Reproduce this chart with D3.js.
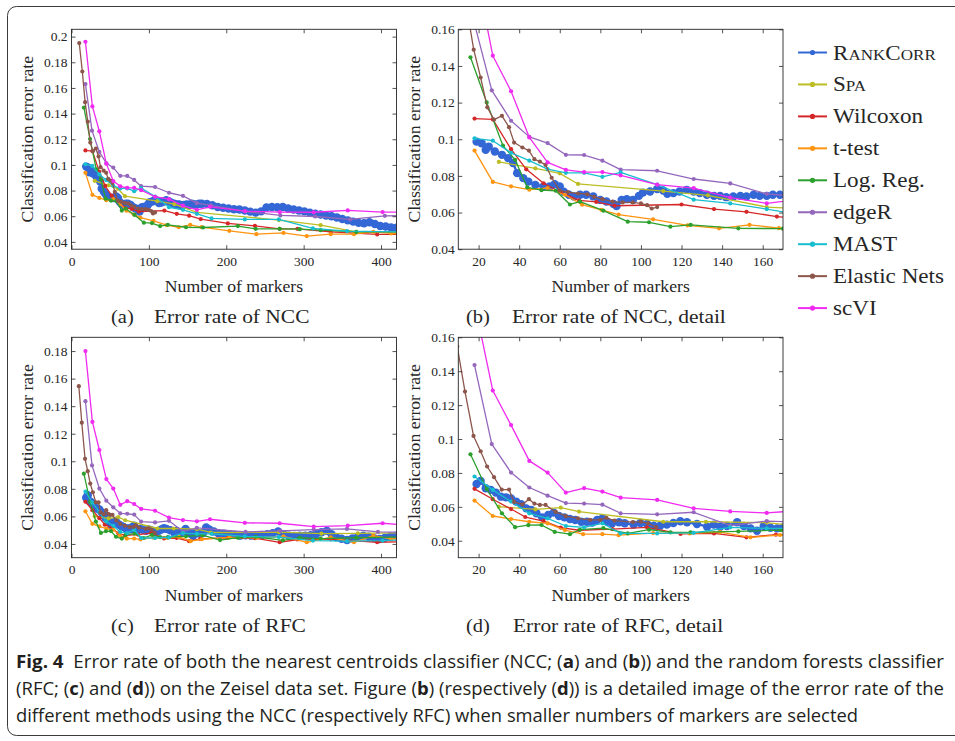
<!DOCTYPE html>
<html>
<head>
<meta charset="utf-8">
<script src="https://cdn.jsdelivr.net/npm/d3@7"></script>
<style>
  body { margin: 0; background: #fff; }
  svg { display: block; }
</style>
</head>
<body>
<svg id="fig" width="955" height="741"></svg>
<script>
// methods, in legend order
var methods = ["RankCorr", "Spa", "Wilcoxon", "t-test", "Log. Reg.", "edgeR", "MAST", "Elastic Nets", "scVI"];
var smallCaps = ["RankCorr", "Spa"];
var colors = ["#3367d6", "#bcbd22", "#d62728", "#ff9410", "#2ca02c", "#9467bd", "#17becf", "#8c564b", "#f02af0"];

// ---- NCC error rate: [number of markers, error rate] ----
var nccRankCorr = [[19,0.0987],[21.5,0.0978],[23.5,0.0942],[25,0.096],[28,0.0933],[31.5,0.0915],[34.5,0.0897],[37,0.087],[39,0.0815],
  [42,0.0788],[44.5,0.0769],[48,0.0751],[52,0.0742],[55,0.0742],[57.5,0.0755],[60,0.0742],[62,0.0714],[64.5,0.0697],[67,0.0688],
  [70,0.0697],[73,0.0697],[76.5,0.0688],[80,0.0669],[83,0.066],[86.5,0.0647],[88,0.0636],[90.5,0.0669],[93,0.0673],[96,0.0669],
  [99,0.0691],[101,0.0709],[104.5,0.0715],[108,0.0728],[111,0.072],[113,0.0702],[116,0.0706],[119,0.0715],[122.5,0.0724],
  [126,0.0715],[129,0.0706],[132.5,0.0697],[136,0.0691],[139,0.0691],[142,0.0684],[145.5,0.0688],[149,0.0691],[152,0.0688],
  [155.5,0.0697],[158.5,0.0691],[162,0.0691],[165,0.0697],[168.5,0.0697],
  [175,0.0695],[182,0.0685],[189,0.0672],[196,0.0666],[203,0.066],[210,0.0654],[217,0.0652],[224,0.0645],[231,0.0636],[238,0.0628],
  [245,0.0638],[252,0.0668],[259,0.0672],[266,0.067],[273,0.0672],[280,0.066],[287,0.0652],[294,0.0645],[301,0.0638],[308,0.0628],
  [315,0.062],[322,0.0614],[329,0.0606],[336,0.06],[343,0.059],[350,0.0578],[357,0.0568],[364,0.0558],[371,0.0548],[378,0.0545],
  [385,0.0553],[392,0.054],[399,0.0524],[406,0.052],[413,0.0512],[420,0.051]];
var nccSpa = [[30,0.0876],[48,0.0841],[60,0.0814],[69,0.0756],[111,0.0717],[133,0.0694],[162,0.063],[268,0.057],[322,0.053],[368,0.0478],[430,0.0472]];
var nccWilcoxon = [[18,0.1113],[27,0.1108],[36,0.0946],[43.5,0.0836],[52,0.076],[60.5,0.0711],[69.5,0.0666],[78,0.0658],[87,0.0637],
  [120,0.0644],[136,0.0619],[152,0.0604],[167,0.0578],[202,0.0544],[237,0.0525],[269,0.0502],[292,0.0502],[335,0.0478],[395,0.0458],[430,0.0458]];
var nccTtest = [[18,0.0938],[27,0.0767],[36,0.0743],[45,0.0725],[54,0.0734],[62.5,0.0697],[71,0.0643],[80.5,0.0615],[89,0.0589],
  [106,0.0563],[123,0.053],[138.5,0.0514],[153.5,0.0533],[168,0.0515],[204,0.0486],[239,0.046],[274,0.047],[304,0.0445],[335,0.046],
  [365,0.046],[390,0.0478],[413,0.0466],[430,0.046]];
var nccLogReg = [[16,0.1447],[24,0.1201],[32,0.0965],[38,0.0888],[44,0.0737],[51,0.0722],[58,0.0719],[65,0.0644],[70,0.066],[81.5,0.061],
  [93.5,0.055],[104,0.0547],[114.5,0.0523],[124.5,0.0533],[148,0.0514],[170,0.0512],[215,0.0523],[238,0.0502],[269,0.0502],[295,0.0499],
  [322,0.0491],[368,0.0478],[430,0.0478]];
var nccEdgeR = [[18,0.163],[26.5,0.1267],[36,0.1101],[45,0.1013],[54,0.0979],[63,0.0915],[72,0.0914],[81,0.0883],[90,0.0834],[108,0.0828],
  [126,0.0783],[144,0.0759],[162,0.0702],[180,0.0685],[225,0.0637],[270,0.0606],[315,0.0598],[360,0.0575],[405,0.0603],[450,0.0605]];
var nccMast = [[18,0.1005],[27,0.0992],[36,0.0926],[45,0.0883],[54,0.0837],[63,0.0817],[72,0.0817],[81,0.0795],[90,0.0819],[108,0.0753],
  [126,0.067],[144,0.065],[162,0.0619],[181,0.0583],[224,0.0575],[268,0.0575],[312,0.0505],[356,0.0484],[430,0.0478]];
var nccElasticNets = [[10,0.195],[14,0.1728],[17.6,0.1489],[21,0.1337],[24.3,0.1174],[27.6,0.1107],[31.5,0.1128],[35,0.1066],[37.5,0.0982],
  [41.6,0.0955],[44.8,0.0938],[47.5,0.0891],[50.2,0.0878],[53,0.086],[56,0.079],[60,0.072],[64,0.0712],[69,0.0704],[73.5,0.07],[77,0.0685],
  [81,0.0673],[86,0.066],[91,0.0655],[96,0.0655],[100,0.065],[103,0.064],[105.3,0.0622],[108,0.063]];
var nccScvi = [[18,0.196],[27,0.1456],[36,0.1262],[45,0.101],[54,0.0874],[63,0.0833],[72,0.0821],[81,0.0821],[90,0.0803],[108,0.0752],
  [126,0.0733],[144,0.0682],[162,0.065],[179,0.0673],[224,0.064],[269,0.0632],[313,0.0631],[357,0.0645],[402,0.0632],[450,0.063]];

// ---- RFC error rate ----
var rfcRankCorr = [[19,0.0735],[21,0.0753],[23.5,0.071],[26,0.07],[28.5,0.0684],[31,0.066],[33.5,0.0656],[36,0.065],[38.5,0.0631],
  [41,0.0615],[43.5,0.0591],[46,0.0581],[48.5,0.0562],[51.3,0.0538],[54.3,0.0552],[57,0.0566],[59.6,0.0546],[62.3,0.0538],[65,0.0528],
  [67.6,0.0522],[70.6,0.0512],[73.4,0.0512],[76,0.0507],[78.4,0.0522],[81,0.0532],[83.3,0.0512],[85.8,0.0503],[89.2,0.0509],[92,0.0503],
  [96.4,0.0495],[99.7,0.0505],[103,0.0499],[106.3,0.0489],[109.5,0.0489],[112.8,0.0495],[116,0.0505],[119.4,0.0515],[122.7,0.0509],
  [127.6,0.0499],[132.6,0.0483],[135.9,0.0495],[139,0.0483],[142.4,0.0487],[147.4,0.0509],[150.7,0.0487],[154,0.0473],[157.2,0.0459],
  [160.5,0.0487],[163.8,0.0477],[167.1,0.0473],[170,0.0479],
  [174,0.052],[178,0.0505],[184,0.049],[190,0.0478],[197,0.0475],[204,0.047],[211,0.0466],[218,0.046],[225,0.0462],[232,0.046],
  [239,0.0462],[246,0.0465],[253,0.047],[260,0.0478],[267,0.049],[274,0.047],[281,0.046],[288,0.0458],[295,0.046],[302,0.046],
  [309,0.0463],[316,0.047],[323,0.0485],[330,0.0495],[336,0.047],[342,0.0448],[349,0.0438],[356,0.0428],[363,0.044],[370,0.045],
  [377,0.046],[384,0.0452],[391,0.0442],[398,0.0436],[405,0.0445],[412,0.0455],[420,0.046]];
var rfcSpa = [[30,0.0601],[48,0.0585],[60.5,0.0595],[69.5,0.0572],[111,0.0512],[132,0.0512],[162,0.0507],[180,0.0483],[268,0.0485],
  [323,0.0475],[370,0.0477],[430,0.048]];
var rfcWilcoxon = [[18,0.0706],[27,0.0645],[36,0.0587],[43,0.054],[52,0.0516],[60.5,0.0477],[69.5,0.0462],[86,0.0468],[103,0.0479],
  [119.5,0.044],[136,0.0443],[152,0.042],[166.5,0.0436],[202,0.0445],[237,0.0442],[269,0.0412],[292,0.0432],[335,0.0435],[395,0.0412],[430,0.0415]];
var rfcTtest = [[18,0.0637],[27,0.0546],[36,0.0528],[45,0.0512],[54,0.0503],[62.5,0.0463],[71.5,0.0439],[81,0.0439],[89,0.0433],
  [106,0.0445],[124,0.0443],[139,0.0451],[154,0.042],[168.5,0.0434],[204,0.0448],[239,0.0444],[274,0.0455],[304,0.0412],[335,0.0448],
  [365,0.0412],[390,0.046],[413,0.0436],[430,0.044]];
var rfcLogReg = [[16,0.091],[24,0.0705],[31.5,0.0562],[38,0.048],[44.5,0.0492],[51,0.0493],[57.5,0.0452],[65,0.0439],[70,0.0465],
  [81.5,0.0475],[93.5,0.0443],[104,0.0465],[114.5,0.0449],[124.5,0.0449],[148,0.0455],[169,0.0463],[192,0.0428],[215,0.0445],[238,0.0452],
  [273,0.0426],[295,0.0445],[322,0.0438],[368,0.0445],[430,0.045]];
var rfcEdgeR = [[18,0.1436],[26.5,0.097],[36,0.0802],[45,0.0714],[54,0.0666],[63,0.0622],[72,0.0619],[81,0.0613],[90,0.0562],[108,0.0556],
  [126,0.0568],[144,0.049],[162,0.0516],[225,0.0487],[270,0.0495],[313,0.0504],[356,0.0509],[396,0.0487],[450,0.0483]];
var rfcMast = [[18,0.0779],[27,0.07],[36,0.0631],[45,0.0562],[54,0.0532],[63,0.0487],[72,0.0479],[81,0.0503],[90,0.0443],[108,0.0443],
  [126,0.0447],[144,0.0479],[162,0.0473],[181,0.0473],[224,0.0455],[268,0.045],[312,0.0424],[356,0.042],[402,0.0424],[430,0.043]];
var rfcElasticNets = [[9.5,0.1545],[13.3,0.128],[17.5,0.1018],[21,0.0928],[24.2,0.0838],[27.6,0.0775],[31.4,0.0702],[35,0.0702],[37.5,0.0629],
  [41.6,0.0614],[44.8,0.0645],[47.5,0.0619],[50.2,0.0611],[53,0.0611],[58,0.057],[63,0.0545],[69,0.0532],[75,0.0523],[80,0.0523],[83,0.0535],
  [87,0.0519],[96,0.051],[100,0.0513],[103.5,0.0503],[107.5,0.048]];
var rfcScvi = [[18,0.18],[27,0.1286],[36,0.1082],[45,0.0871],[54,0.0802],[63,0.0684],[72,0.071],[81,0.069],[90,0.0654],[108,0.0641],
  [126,0.0591],[144,0.0573],[162,0.0564],[179,0.0579],[224,0.0553],[269,0.055],[313,0.0526],[357,0.0533],[402,0.055],[450,0.053]];

var ncc = [nccRankCorr, nccSpa, nccWilcoxon, nccTtest, nccLogReg, nccEdgeR, nccMast, nccElasticNets, nccScvi];
var rfc = [rfcRankCorr, rfcSpa, rfcWilcoxon, rfcTtest, rfcLogReg, rfcEdgeR, rfcMast, rfcElasticNets, rfcScvi];

// tick labels
var xTicksFull = [0, 100, 200, 300, 400];
var xTicksDetail = [20, 40, 60, 80, 100, 120, 140, 160];
var yTicksA = [0.04, 0.06, 0.08, 0.1, 0.12, 0.14, 0.16, 0.18, 0.2];
var yTicksB = [0.04, 0.06, 0.08, 0.1, 0.12, 0.14, 0.16];
var yTicksC = [0.04, 0.06, 0.08, 0.1, 0.12, 0.14, 0.16, 0.18];
var yTicksD = [0.04, 0.06, 0.08, 0.1, 0.12, 0.14, 0.16];

var caption = [
  [["Fig. 4", true], ["  Error rate of both the nearest centroids classifier (NCC; (", false], ["a", true], [") and (", false], ["b", true],
   [")) and the random forests classifier", false]],
  [["(RFC; (", false], ["c", true], [") and (", false], ["d", true], [")) on the Zeisel data set. Figure (", false], ["b", true],
   [") (respectively (", false], ["d", true], [")) is a detailed image of the error rate of the", false]],
  [["different methods using the NCC (respectively RFC) when smaller numbers of markers are selected", false]]
];

var serif = "'Liberation Serif', 'DejaVu Serif', serif";
var sans = "'Liberation Sans Narrow', 'Open Sans', 'Liberation Sans', sans-serif";
var ink = "#262626";

var svg = d3.select("#fig");

// outer frame of the figure
svg.append("rect")
    .attr("x", 7.5).attr("y", 6.5)
    .attr("width", 980).attr("height", 729)
    .attr("rx", 9)
    .attr("fill", "none")
    .attr("stroke", "#3a3a3a")
    .attr("stroke-width", 1);

// stretch serif text a bit, Computer Modern is wider than Times
function widen(sel, k) {
  sel.each(function() {
    var len = this.getComputedTextLength();
    d3.select(this).attr("textLength", len * k).attr("lengthAdjust", "spacingAndGlyphs");
  });
}

var panels = [
  {data: ncc, left: 71.5, top: 29.3, right: 396.5, bottom: 249.2, xd: [0, 420], yd: [0.0343, 0.2057], xt: xTicksFull, yt: yTicksA,
   ypad: 4, tag: "(a)", title: "Error rate of NCC", tagX: 111, titleX: 154},
  {data: ncc, left: 458.3, top: 29.3, right: 783, bottom: 249.2, xd: [10, 170], yd: [0.04, 0.16], xt: xTicksDetail, yt: yTicksB,
   ypad: 3.5, tag: "(b)", title: "Error rate of NCC, detail", tagX: 466, titleX: 512},
  {data: rfc, left: 71.5, top: 337.3, right: 396.5, bottom: 557.7, xd: [0, 420], yd: [0.03, 0.19], xt: xTicksFull, yt: yTicksC,
   ypad: 4, tag: "(c)", title: "Error rate of RFC", tagX: 111, titleX: 154},
  {data: rfc, left: 458.3, top: 337.3, right: 783, bottom: 557.7, xd: [10, 170], yd: [0.03, 0.16], xt: xTicksDetail, yt: yTicksD,
   ypad: 3.5, tag: "(d)", title: "Error rate of RFC, detail", tagX: 466, titleX: 513}
];

var fmt = function(d) { return String(+d.toFixed(2)); };

panels.forEach(function(p, pi) {
  var w = p.right - p.left, h = p.bottom - p.top;
  var x = d3.scaleLinear().domain(p.xd).range([0, w]);
  var y = d3.scaleLinear().domain(p.yd).range([h, 0]);

  var g = svg.append("g").attr("transform", "translate(" + p.left + "," + p.top + ")");

  g.append("clipPath").attr("id", "clip" + pi)
    .append("rect").attr("width", w).attr("height", h);

  var plot = g.append("g").attr("clip-path", "url(#clip" + pi + ")");
  var line = d3.line().x(function(d) { return x(d[0]); }).y(function(d) { return y(d[1]); });

  p.data.forEach(function(s, i) {
    var big = i === 0;
    var sg = plot.append("g");
    sg.append("path")
        .datum(s)
        .attr("fill", "none")
        .attr("stroke", colors[i])
        .attr("stroke-width", big ? 2.4 : 1.3)
        .attr("stroke-linejoin", "round")
        .attr("d", line);
    sg.selectAll("circle")
      .data(s)
      .enter().append("circle")
        .attr("cx", function(d) { return x(d[0]); })
        .attr("cy", function(d) { return y(d[1]); })
        .attr("r", big ? 4.2 : 2.1)
        .attr("fill", colors[i]);
  });

  // axes, ticks inside on all four sides
  var bottom = g.append("g").attr("transform", "translate(0," + h + ")")
      .call(d3.axisBottom(x).tickValues(p.xt).tickSize(-4).tickSizeOuter(0).tickPadding(7));
  var left = g.append("g")
      .call(d3.axisLeft(y).tickValues(p.yt).tickFormat(fmt).tickSize(-4).tickSizeOuter(0).tickPadding(p.ypad));
  var top = g.append("g")
      .call(d3.axisTop(x).tickValues(p.xt).tickFormat("").tickSize(-4).tickSizeOuter(0));
  var right = g.append("g").attr("transform", "translate(" + w + ",0)")
      .call(d3.axisRight(y).tickValues(p.yt).tickFormat("").tickSize(-4).tickSizeOuter(0));

  [bottom, left, top, right].forEach(function(a) {
    a.attr("font-family", serif).attr("font-size", 13.5);
    a.select(".domain").remove();
    a.selectAll("line").attr("stroke", ink).attr("stroke-width", 0.8);
    a.selectAll("text").attr("fill", ink);
  });

  g.append("rect")
      .attr("width", w).attr("height", h)
      .attr("fill", "none")
      .attr("stroke", ink)
      .attr("stroke-width", 0.9);

  // axis titles
  g.append("text")
      .attr("x", w / 2).attr("y", h + 43)
      .attr("text-anchor", "middle")
      .attr("font-family", serif).attr("font-size", 16.5).attr("fill", ink)
      .text("Number of markers")
      .call(widen, 1.07);

  g.append("text")
      .attr("transform", "translate(-38.5," + (h / 2) + ") rotate(-90)")
      .attr("text-anchor", "middle")
      .attr("font-family", serif).attr("font-size", 16.5).attr("fill", ink)
      .text("Classification error rate")
      .call(widen, 1.07);

  // sub caption
  svg.append("text")
      .attr("x", p.tagX).attr("y", p.bottom + 74)
      .attr("font-family", serif).attr("font-size", 19.5).attr("fill", ink)
      .text(p.tag)
      .call(widen, 1.05);
  svg.append("text")
      .attr("x", p.titleX).attr("y", p.bottom + 74)
      .attr("font-family", serif).attr("font-size", 19.5).attr("fill", ink)
      .text(p.title)
      .call(widen, 1.1);
});

// legend
var legend = svg.append("g")
    .attr("font-family", serif)
    .attr("fill", ink)
  .selectAll("g")
  .data(methods)
  .enter().append("g")
    .attr("transform", function(d, i) { return "translate(798," + (52.5 + i * 31.95) + ")"; });

legend.append("line")
    .attr("x1", 0).attr("x2", 29)
    .attr("stroke", function(d, i) { return colors[i]; })
    .attr("stroke-width", 2);

legend.append("circle")
    .attr("cx", 14.5)
    .attr("r", 2.6)
    .attr("fill", function(d, i) { return colors[i]; });

legend.append("text")
    .attr("x", 35).attr("y", 7)
    .attr("font-size", 21)
    .each(function(d) {
      var t = d3.select(this);
      if (smallCaps.indexOf(d) < 0) { t.text(d); return; }
      // small caps: capitals full size, lower case as smaller capitals
      var runs = d.match(/[A-Z]+|[a-z]+/g);
      runs.forEach(function(r) {
        var lower = r === r.toLowerCase();
        t.append("tspan").attr("font-size", lower ? 15.5 : 21).text(lower ? r.toUpperCase() : r);
      });
    })
    .call(widen, 1.1);

// figure caption
var cap = svg.append("g")
    .attr("font-family", sans)
    .attr("font-size", 18.5)
    .attr("fill", "#231f20");

var capWidths = [928, 928, 842];
caption.forEach(function(segs, li) {
  var t = cap.append("text")
      .attr("x", 16)
      .attr("y", 668 + li * 27)
      .attr("xml:space", "preserve")
      .attr("textLength", capWidths[li])
      .attr("lengthAdjust", "spacingAndGlyphs");
  segs.forEach(function(s) {
    t.append("tspan").attr("font-weight", s[1] ? "bold" : null).text(s[0]);
  });
});
</script>
</body>
</html>
